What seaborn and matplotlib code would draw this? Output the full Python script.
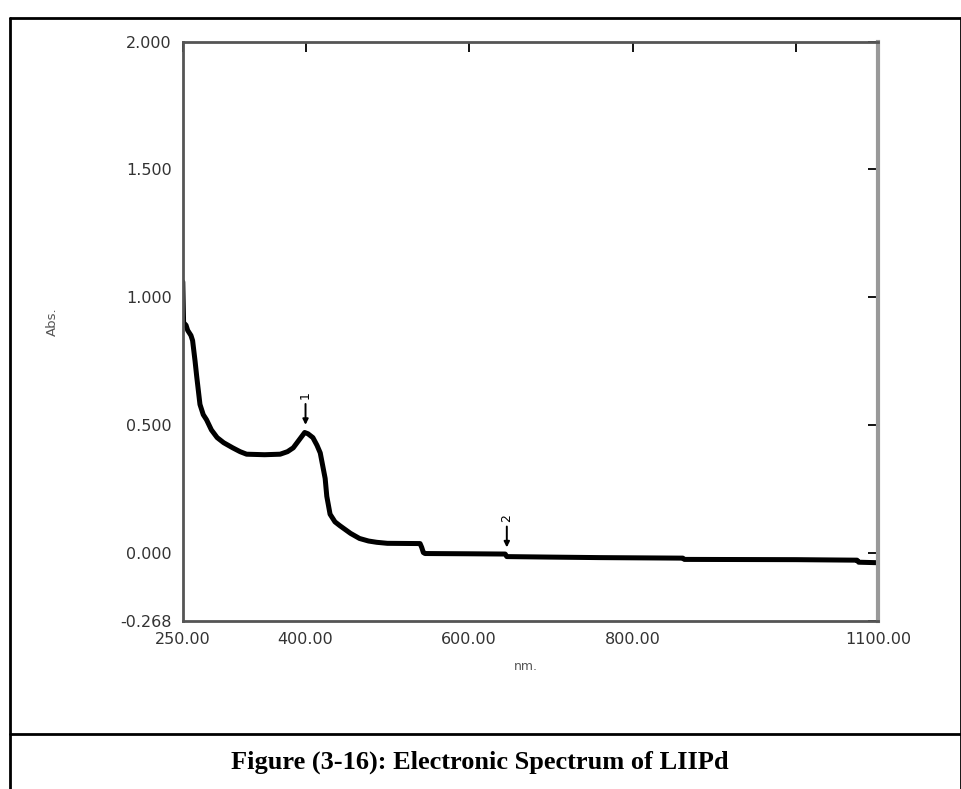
import matplotlib
matplotlib.use("Agg")
import matplotlib.pyplot as plt
from matplotlib.lines import Line2D
import seaborn as sns
import pandas as pd

# Data
wavelength = [250, 251, 254, 256, 260, 262, 265, 267, 271, 275, 279, 285, 292, 300,
              311, 320, 328, 350, 369, 378, 385, 392, 399, 403, 409, 414, 418, 421,
              424, 426, 430, 436, 442, 455, 466, 477, 487, 500, 540, 542, 544, 546,
              600, 644, 646, 700, 760, 861, 863, 1000, 1074, 1076, 1100]
absorbance = [1.06, 0.90, 0.89, 0.87, 0.85, 0.83, 0.75, 0.69, 0.58, 0.54, 0.52, 0.48,
              0.45, 0.43, 0.41, 0.395, 0.385, 0.383, 0.385, 0.395, 0.41, 0.44, 0.47,
              0.465, 0.45, 0.42, 0.39, 0.34, 0.29, 0.22, 0.15, 0.12, 0.105, 0.075,
              0.055, 0.045, 0.04, 0.036, 0.035, 0.02, 0.0, -0.004, -0.005, -0.006,
              -0.016, -0.018, -0.02, -0.022, -0.027, -0.028, -0.03, -0.038, -0.04]
x_ticks = [250, 400, 600, 800, 1000, 1100]
x_ticklabels = ["250.00", "400.00", "600.00", "800.00", "", "1100.00"]
y_ticks = [-0.268, 0.0, 0.5, 1.0, 1.5, 2.0]
y_ticklabels = ["-0.268", "0.000", "0.500", "1.000", "1.500", "2.000"]
peak_labels = ["1", "2"]
peak_x = [400, 646]
peak_y = [0.50, 0.02]

df = pd.DataFrame({"nm": wavelength, "Abs": absorbance})

sns.set_style("white")
plt.rcParams["font.family"] = ["DejaVu Sans"]

fig = plt.figure(figsize=(9.62, 7.89), dpi=100)
ax = fig.add_axes([0.190, 0.213, 0.723, 0.734])

sns.lineplot(data=df, x="nm", y="Abs", ax=ax, color="black", linewidth=3.6,
             estimator=None, sort=False)

ax.set_xlim(250, 1100)
ax.set_ylim(-0.268, 2.0)
ax.set_xticks(x_ticks)
ax.set_xticklabels(x_ticklabels)
ax.set_yticks(y_ticks)
ax.set_yticklabels(y_ticklabels)
ax.tick_params(direction="in", length=7, width=1.4, top=True, right=True,
               labelsize=11.5, colors="#333333", pad=8)
ax.tick_params(axis="both", color="#111111")
for name, s in ax.spines.items():
    s.set_color("#555555")
    s.set_linewidth(2)
    s.set_visible(True)
ax.spines["right"].set_color("#999999")
ax.spines["right"].set_linewidth(3)

ax.set_xlabel("")
ax.set_ylabel("")
W, H = 962, 789
fig.text(526 / W, 1 - 667 / H, "nm.", fontsize=9, color="#555555",
         ha="center", va="center")
fig.text(52 / W, 1 - 322 / H, "Abs.", rotation=90, fontsize=9.5, color="#555555",
         ha="center", va="center")

for lab, px, py in zip(peak_labels, peak_x, peak_y):
    ax.annotate(lab, xy=(px, py), xytext=(px, py + 0.10), rotation=90,
                fontsize=9, ha="center", va="bottom", color="black",
                arrowprops=dict(arrowstyle="-|>", color="black", lw=1.4,
                                mutation_scale=8, shrinkA=1, shrinkB=0))

# outer frame and caption box
def fline(x0, y0, x1, y1, lw=2):
    fig.add_artist(Line2D([x0 / W, x1 / W], [1 - y0 / H, 1 - y1 / H],
                          transform=fig.transFigure, color="black", linewidth=lw))
fline(10, 18, 962, 18)
fline(10, 18, 10, 789)
fline(961, 18, 961, 789)
fline(10, 734, 962, 734)

fig.text(480 / W, 1 - 762 / H, "Figure (3-16): Electronic Spectrum of LIIPd",
         ha="center", va="center", fontsize=19, fontweight="bold",
         family=["Liberation Serif", "DejaVu Serif"], color="black")

fig.savefig("out.png", dpi=100, facecolor="white")
